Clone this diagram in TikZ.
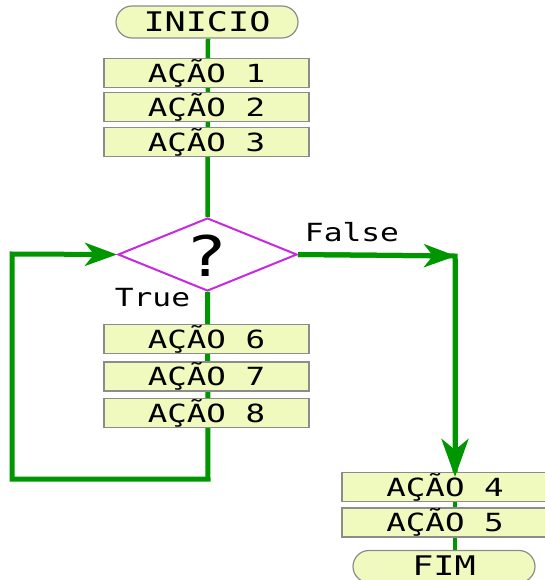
\documentclass[tikz,border=0pt]{standalone}
\usepackage{fontspec}
\usetikzlibrary{arrows.meta,shapes.geometric,backgrounds}
\newfontfamily\boxfont[FakeStretch=1.3]{DejaVu Sans Mono}
\newfontfamily\endfont[FakeStretch=1.3]{DejaVu Sans Mono}
\newfontfamily\tagfont[FakeStretch=1.25]{DejaVu Sans Mono}
\definecolor{flowgreen}{RGB}{0,150,0}
\definecolor{boxfill}{RGB}{240,250,190}
\definecolor{boxline}{RGB}{140,140,140}
\definecolor{decline}{RGB}{200,40,225}
\tikzset{
  stepbox/.style={draw=boxline, line width=1.2pt, fill=boxfill, minimum width=205pt,
    minimum height=29pt, inner sep=0pt, font=\boxfont\fontsize{25}{25}\selectfont},
  terminal/.style={draw=boxline, line width=1.2pt, fill=boxfill, rounded corners=16pt,
    minimum width=182pt, minimum height=32pt, inner sep=0pt, font=\endfont\fontsize{27}{27}\selectfont},
  decision/.style={diamond, draw=decline, line width=2pt, fill=white, minimum width=179pt,
    minimum height=73pt, inner sep=0pt},
  trunk/.style={draw=flowgreen, line width=4.5pt},
  flow/.style={draw=flowgreen, line width=5pt, line join=miter},
  bigtip/.style={-{Stealth[length=32pt,width=23pt,inset=9pt]}},
  downtip/.style={-{Stealth[length=38pt,width=27pt,inset=11pt]}},
  tag/.style={font=\tagfont\fontsize{25}{25}\selectfont, inner sep=0pt}
}
\begin{document}
\begin{tikzpicture}[x=1pt,y=-1pt]
\useasboundingbox (0,0) rectangle (544,580);
% fixed points of the two flow loops
\coordinate (corner) at (455,256);
\coordinate (loopbr) at (208,479);
\coordinate (loopbl) at (12,479);
\coordinate (looptl) at (12,254);
% main column
\node[terminal] (start) at (207,22) {INICIO};
\node[decision] (dec) at (207.5,254.5) {};
\node[font=\tagfont\fontsize{56}{56}\selectfont, inner sep=0pt] (q) at (207,256) {?};
\node[stepbox] (a1) at (206.5,73) {AÇÃO 1};
\node[stepbox] (a2) at (206.5,107) {AÇÃO 2};
\node[stepbox] (a3) at (206.5,142) {AÇÃO 3};
\node[stepbox] (a6) at (206.5,339) {AÇÃO 6};
\node[stepbox] (a7) at (206.5,376.5) {AÇÃO 7};
\node[stepbox] (a8) at (206.5,413) {AÇÃO 8};
% right column
\node[stepbox, minimum width=206pt] (a4) at (445,487) {AÇÃO 4};
\node[stepbox, minimum width=206pt] (a5) at (445,522.5) {AÇÃO 5};
\node[terminal] (stop) at (444,566.5) {};
\node[font=\endfont\fontsize{27}{27}\selectfont, inner sep=0pt] (fimtext) at (444,566) {FIM};
% branch labels
\node[tag] (lf) at (352,232) {False};
\node[tag] (lt) at (152.5,298) {True};
% connectors behind the boxes
\begin{scope}[on background layer]
  \draw[trunk] (start.south -| 208,0) -- (dec.north);
  \draw[trunk] (a4.north -| corner) -- (stop.south -| corner);
  \draw[flow, bigtip] (dec.south) -- (loopbr) -- (loopbl) -- (looptl) -- (dec.west);
  \draw[flow] (dec.east) -- (corner) -- ([yshift=-10pt]a4.north -| corner);
\end{scope}
\draw[flow, bigtip] (dec.east) -- ([xshift=1pt]corner);
\draw[flow, downtip] ([yshift=-2.5pt]corner) -- ([yshift=-5pt]a4.north -| corner);
\end{tikzpicture}
\end{document}
